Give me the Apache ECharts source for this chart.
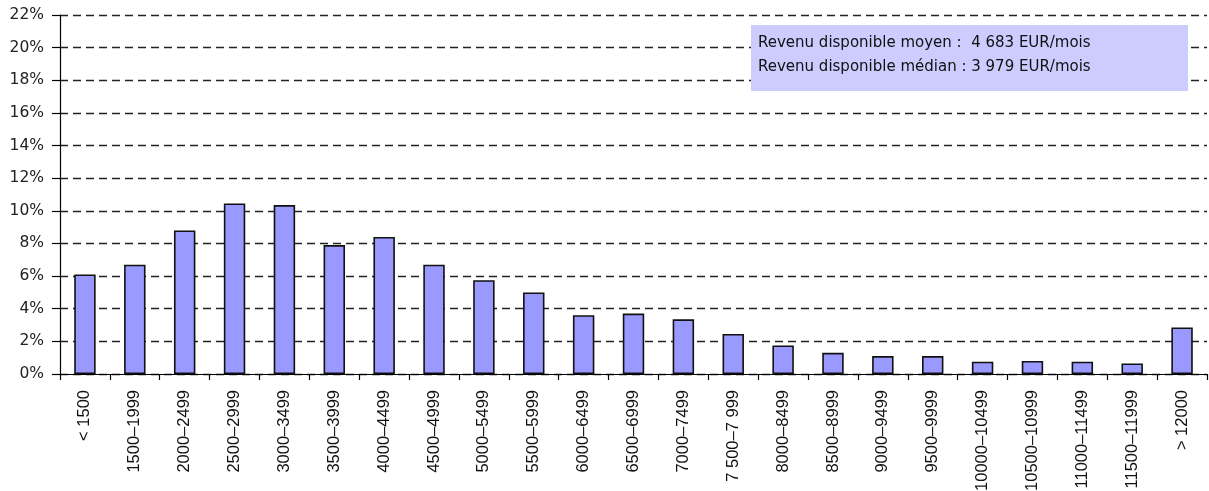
<!DOCTYPE html>
<html>
<head>
<meta charset="utf-8">
<script src="https://cdn.jsdelivr.net/npm/echarts@6/dist/echarts.min.js"></script>
<style>
  html, body { margin: 0; padding: 0; background: #fff; }
  #chart { width: 1209px; height: 491px; }
</style>
</head>
<body>
<div id="chart"></div>
<script>
// Income brackets (EUR / month)
const categories = [
  '< 1500', '1500\u20131999', '2000\u20132499', '2500\u20132999', '3000\u20133499',
  '3500\u20133999', '4000\u20134499', '4500\u20134999', '5000\u20135499', '5500\u20135999',
  '6000\u20136499', '6500\u20136999', '7000\u20137499', '7 500\u20137 999', '8000\u20138499',
  '8500\u20138999', '9000\u20139499', '9500\u20139999', '10000\u201310499', '10500\u201310999',
  '11000\u201311499', '11500\u201311999', '> 12000'
];

// Share of households per bracket (%)
const shares = [
  6.1, 6.7, 8.8, 10.45, 10.35,
  7.9, 8.4, 6.7, 5.75, 5.0,
  3.6, 3.7, 3.35, 2.45, 1.75,
  1.3, 1.1, 1.1, 0.75, 0.8,
  0.75, 0.65, 2.85
];

// Summary lines shown in the info box
const summaryLines = [
  'Revenu disponible moyen :  4 683 EUR/mois',
  'Revenu disponible m\u00e9dian : 3 979 EUR/mois'
];

const yMin = 0, yMax = 22, yStep = 2;

const chart = echarts.init(document.getElementById('chart'), null, { renderer: 'canvas' });

chart.setOption({
  animation: false,
  backgroundColor: '#ffffff',
  grid: {
    left: 60, right: 2, top: 15, bottom: 117,
    containLabel: false,
    outerBoundsMode: 'none'
  },
  xAxis: {
    type: 'category',
    data: categories,
    boundaryGap: true,
    axisLine: { lineStyle: { color: '#000', width: 1.2 } },
    axisTick: { show: true, alignWithLabel: false, length: 6, lineStyle: { color: '#000', width: 1.2 } },
    axisLabel: {
      rotate: 90,
      interval: 0,
      margin: 16,
      color: '#111',
      fontFamily: 'Liberation Sans, Arial, sans-serif',
      fontSize: 16.5
    }
  },
  yAxis: {
    type: 'value',
    min: yMin,
    max: yMax,
    interval: yStep,
    axisLine: { show: true, lineStyle: { color: '#000', width: 1.2 } },
    axisTick: { show: true, length: 8, inside: false, lineStyle: { color: '#000', width: 1.2 } },
    axisLabel: {
      formatter: v => v + '%',
      margin: 16,
      color: '#222',
      fontFamily: 'DejaVu Sans, sans-serif',
      fontSize: 15.5
    },
    splitLine: {
      show: true,
      lineStyle: { color: '#222', width: 1.4, type: [8, 5] }
    }
  },
  series: [{
    type: 'bar',
    data: shares,
    barWidth: '43%',
    itemStyle: { color: '#9999ff', borderColor: '#111', borderWidth: 1.6 },
    z: 3
  }],
  graphic: [{
    type: 'group',
    left: 751,
    top: 25,
    zlevel: 1,
    z: 10,
    children: [
      {
        type: 'rect',
        zlevel: 1,
        z: 10,
        shape: { x: 0, y: 0, width: 437, height: 66 },
        style: { fill: '#ccccff' }
      },
      {
        type: 'text',
        zlevel: 1,
        z: 11,
        left: 7,
        top: 11,
        style: {
          text: summaryLines[0],
          fill: '#111',
          font: '15px "DejaVu Sans", sans-serif'
        }
      },
      {
        type: 'text',
        zlevel: 1,
        z: 11,
        left: 7,
        top: 35,
        style: {
          text: summaryLines[1],
          fill: '#111',
          font: '15px "DejaVu Sans", sans-serif'
        }
      }
    ]
  }]
});
</script>
</body>
</html>
